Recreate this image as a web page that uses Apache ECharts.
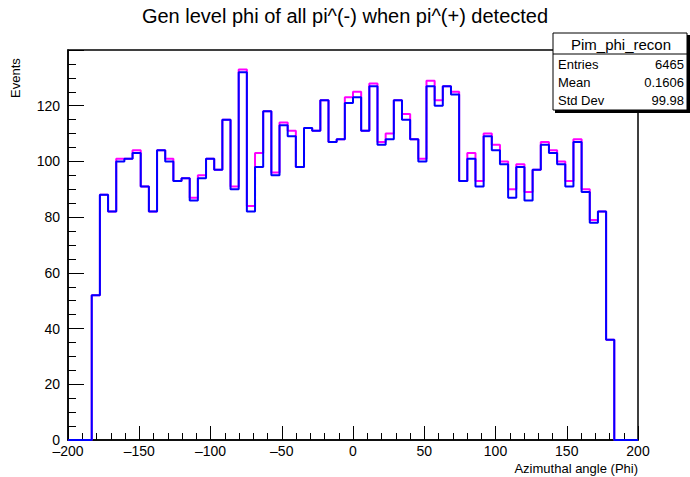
<!DOCTYPE html>
<html>
<head>
<meta charset="utf-8">
<script src="https://cdn.jsdelivr.net/npm/echarts@6/dist/echarts.min.js"></script>
<style>
html,body{margin:0;padding:0;background:#fff;}
#chart{width:690px;height:477px;}
</style>
</head>
<body>
<div id="chart"></div>
<script>
// Histogram binning: 64 bins of 0.1 rad expressed in degrees
const binLo = -183.346;
const binWidth = 5.72958;
const nBins = 64;

// Blue histogram (Pim_phi_recon)
const countsBlue = [52, 88, 82, 100, 101, 103, 91, 82, 104, 100,
  93, 94, 86, 94, 101, 97, 115, 90, 132, 82,
  98, 118, 95, 113, 109, 98, 112, 111, 122, 107,
  108, 121, 123, 111, 127, 106, 108, 122, 115, 108,
  100, 127, 120, 127, 124, 93, 101, 91, 109, 104,
  99, 87, 98, 86, 97, 106, 103, 99, 91, 107,
  89, 78, 82, 36];

// Magenta histogram (drawn underneath)
const countsMagenta = [52, 88, 82, 101, 101, 104, 91, 82, 104, 101,
  93, 94, 87, 95, 101, 97, 115, 91, 133, 84,
  103, 118, 96, 114, 111, 98, 112, 111, 122, 107,
  108, 123, 125, 111, 128, 107, 110, 122, 117, 108,
  101, 129, 122, 127, 125, 93, 103, 93, 110, 106,
  100, 90, 99, 89, 97, 107, 104, 100, 93, 108,
  90, 79, 82, 36];

const xTicks = [-200, -150, -100, -50, 0, 50, 100, 150, 200];
const yTicks = [0, 20, 40, 60, 80, 100, 120];

const titleText = 'Gen level phi of all pi^(-) when pi^(+) detected';
const statsName = 'Pim_phi_recon';
const statsRows = [['Entries', '6465'], ['Mean', '0.1606'], ['Std Dev', '99.98']];

const X_MIN = -200, X_MAX = 200, Y_MAX = 140;

function stepData(counts) {
  const pts = [[X_MIN, 0]];
  for (let i = 0; i < nBins; i++) pts.push([binLo + i * binWidth, counts[i]]);
  pts.push([binLo + nBins * binWidth, 0]);
  pts.push([X_MAX, 0]);
  return pts;
}

const FONT = '"Liberation Sans", Arial, Helvetica, sans-serif';
const chart = echarts.init(document.getElementById('chart'), null, {renderer: 'svg'});

const graphics = [
  {type: 'text', left: 'center', top: 6, x: 0, style: {text: titleText, font: '20px ' + FONT, fill: '#000'}, z: 10},
  {type: 'text', rotation: Math.PI / 2, x: 9, y: 98,
    style: {text: 'Events', font: '13px ' + FONT, fill: '#000', textAlign: 'left', textVerticalAlign: 'top'}, z: 10},
  {type: 'text', x: 638, y: 462, style: {text: 'Azimuthal angle (Phi)', font: '13px ' + FONT, fill: '#000', textAlign: 'right', textVerticalAlign: 'top'}, z: 10},
  // stats box shadow + box
  {type: 'rect', shape: {x: 555, y: 35, width: 135, height: 78}, style: {fill: '#000'}, z: 20},
  {type: 'rect', shape: {x: 553, y: 33, width: 134, height: 77}, style: {fill: '#fff', stroke: '#000', lineWidth: 1}, z: 21},
  {type: 'line', shape: {x1: 553, y1: 54, x2: 687, y2: 54}, style: {stroke: '#000', lineWidth: 1}, z: 22},
  {type: 'text', x: 621, y: 44, style: {text: statsName, font: '15px ' + FONT, fill: '#000', textAlign: 'center', textVerticalAlign: 'middle'}, z: 22}
];
statsRows.forEach((r, i) => {
  const yy = 64 + i * 18;
  graphics.push({type: 'text', x: 558, y: yy, style: {text: r[0], font: '13px ' + FONT, fill: '#000', textAlign: 'left', textVerticalAlign: 'middle'}, z: 22});
  graphics.push({type: 'text', x: 684, y: yy, style: {text: r[1], font: '13px ' + FONT, fill: '#000', textAlign: 'right', textVerticalAlign: 'middle'}, z: 22});
});

chart.setOption({
  animation: false,
  backgroundColor: '#fff',
  grid: {left: 68, right: 52, top: 50, bottom: 37, show: true, borderColor: '#000', borderWidth: 1.5, backgroundColor: 'transparent'},
  xAxis: {
    type: 'value', min: X_MIN, max: X_MAX, interval: 50,
    axisLine: {show: true, onZero: false, lineStyle: {color: '#000', width: 1.5}},
    axisTick: {show: true, inside: true, length: 14, lineStyle: {color: '#000', width: 1}},
    minorTick: {show: true, splitNumber: 5, length: 7, lineStyle: {color: '#000', width: 1}},
    splitLine: {show: false},
    axisLabel: {
      margin: 4, color: '#000', fontSize: 14, fontFamily: FONT,
      formatter: v => xTicks.indexOf(v) < 0 ? '' : (v < 0 ? '\u2013' + Math.abs(v) : String(v))
    }
  },
  yAxis: {
    type: 'value', min: 0, max: Y_MAX, interval: 20,
    axisLine: {show: true, onZero: false, lineStyle: {color: '#000', width: 1.5}},
    axisTick: {show: true, inside: true, length: 16, lineStyle: {color: '#000', width: 1}},
    minorTick: {show: true, splitNumber: 4, length: 8, lineStyle: {color: '#000', width: 1}},
    splitLine: {show: false},
    axisLabel: {
      margin: 8, color: '#000', fontSize: 14, fontFamily: FONT,
      formatter: v => yTicks.indexOf(v) < 0 ? '' : String(v)
    }
  },
  series: [
    {type: 'line', step: 'end', data: stepData(countsMagenta), symbol: 'none', showSymbol: false,
      lineStyle: {color: '#ff00ff', width: 2}, z: 2},
    {type: 'line', step: 'end', data: stepData(countsBlue), symbol: 'none', showSymbol: false,
      lineStyle: {color: '#0000ff', width: 2}, z: 3}
  ],
  graphic: graphics
});
</script>
</body>
</html>
